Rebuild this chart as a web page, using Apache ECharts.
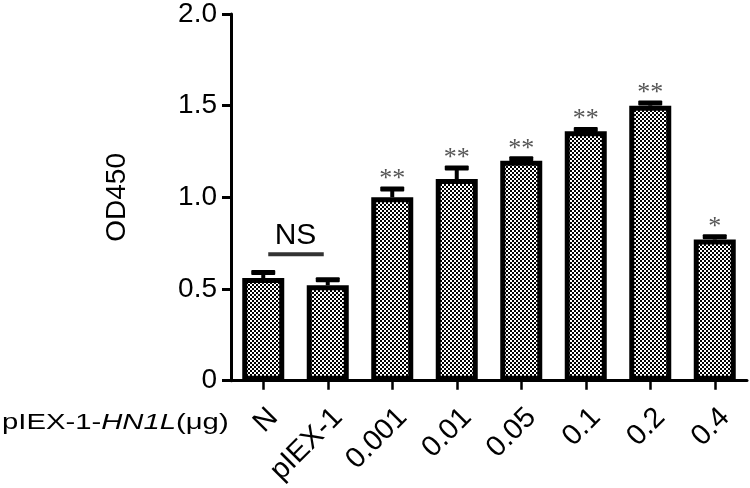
<!DOCTYPE html>
<html>
<head>
<meta charset="utf-8">
<script src="https://cdn.jsdelivr.net/npm/echarts@6/dist/echarts.min.js"></script>
<style>
html,body{margin:0;padding:0;background:#fff;}
#chart{width:750px;height:488px;}
</style>
</head>
<body>
<div id="chart"></div>
<script>
// ---- data ----
const categories = ['N', 'pIEX-1', '0.001', '0.01', '0.05', '0.1', '0.2', '0.4'];
const means = [0.56, 0.52, 1.00, 1.10, 1.20, 1.36, 1.50, 0.77];
const sds = [0.03, 0.03, 0.045, 0.06, 0.01, 0.01, 0.015, 0.015];
const stars = ['', '', '**', '**', '**', '**', '**', '*'];
const nsPair = [0, 1];
const nsLevel = 0.69;
const nsText = 'NS';
const yTickValues = [0, 0.5, 1.0, 1.5, 2.0];
const yName = 'OD450';
const xTitleParts = ['pIEX-1-', 'HN1L', '(μg)'];

// ---- pattern ----
const tile = document.createElement('canvas');
tile.width = 4; tile.height = 4;
const tctx = tile.getContext('2d');
tctx.fillStyle = '#fff'; tctx.fillRect(0, 0, 4, 4);
tctx.fillStyle = '#000';
tctx.fillRect(0, 0, 2, 2);
tctx.fillRect(2, 2, 2, 2);

const chart = echarts.init(document.getElementById('chart'), null, {renderer: 'canvas'});

const errData = categories.map((c, i) => [i, means[i], means[i] + sds[i], stars[i]]);

const option = {
  animation: false,
  backgroundColor: '#fff',
  grid: {left: 231, right: 3, top: 14, bottom: 106},
  xAxis: {
    type: 'category',
    data: categories,
    axisLine: {lineStyle: {color: '#000', width: 3}},
    axisTick: {show: true, alignWithLabel: true, length: 9, lineStyle: {color: '#000', width: 2.5}},
    axisLabel: {
      rotate: 45, interval: 0, margin: 22, verticalAlign: 'top',
      fontFamily: 'Liberation Sans, Arial, sans-serif', fontSize: 29, color: '#000'
    }
  },
  yAxis: {
    type: 'value',
    min: yTickValues[0], max: yTickValues[yTickValues.length - 1], interval: 0.5,
    name: yName, nameLocation: 'middle', nameGap: 100, nameRotate: 90,
    nameTextStyle: {fontFamily: 'Liberation Sans, Arial, sans-serif', fontSize: 28, color: '#000'},
    axisLine: {show: true, lineStyle: {color: '#000', width: 3}},
    axisTick: {show: true, length: 9, lineStyle: {color: '#000', width: 3}},
    splitLine: {show: false},
    axisLabel: {
      margin: 14, fontFamily: 'Liberation Sans, Arial, sans-serif', fontSize: 28, color: '#000',
      formatter: v => v === 0 ? '0' : v.toFixed(1)
    }
  },
  graphic: [{
    type: 'text', left: 2, top: 412, scaleX: 1.33,
    style: {
      text: '{a|' + xTitleParts[0] + '}{b|' + xTitleParts[1] + '}{a|' + xTitleParts[2] + '}',
      rich: {
        a: {fontFamily: 'Liberation Sans, Arial, sans-serif', fontSize: 22, fill: '#000'},
        b: {fontFamily: 'Liberation Sans, Arial, sans-serif', fontSize: 22, fontStyle: 'italic', fill: '#000'}
      }
    }
  }],
  series: [
    {
      type: 'bar',
      data: means,
      barWidth: 42,
      itemStyle: {color: {image: tile, repeat: 'repeat'}, borderColor: '#000', borderWidth: 5},
      z: 2
    },
    {
      type: 'custom',
      data: errData,
      z: 3,
      renderItem: function (params, api) {
        const x = api.value(0);
        const base = api.coord([x, api.value(1)]);
        const top = api.coord([x, api.value(2)]);
        const children = [
          {type: 'rect', shape: {x: top[0] - 2, y: top[1], width: 4, height: base[1] - top[1]}, style: {fill: '#000'}},
          {type: 'rect', shape: {x: top[0] - 12, y: top[1] - 2.5, width: 24, height: 5, r: 1}, style: {fill: '#000'}}
        ];
        const s = api.value(3);
        if (s) {
          children.push({type: 'text', style: {
            text: s, x: top[0], y: top[1] - 10, align: 'center', verticalAlign: 'middle',
            fontFamily: 'Liberation Serif, Times New Roman, serif', fontSize: 26, fill: '#555'
          }});
        }
        return {type: 'group', children: children};
      }
    },
    {
      type: 'custom',
      data: [[nsPair[0], nsPair[1], nsLevel]],
      z: 3,
      renderItem: function (params, api) {
        const p0 = api.coord([api.value(0), api.value(2)]);
        const p1 = api.coord([api.value(1), api.value(2)]);
        return {type: 'group', children: [
          {type: 'rect', shape: {x: p0[0] + 5, y: p0[1] - 2, width: p1[0] - p0[0] - 9, height: 4}, style: {fill: '#333'}},
          {type: 'text', style: {
            text: nsText, x: (p0[0] + p1[0]) / 2, y: p0[1] - 3, align: 'center', verticalAlign: 'bottom',
            fontFamily: 'Liberation Sans, Arial, sans-serif', fontSize: 30, fill: '#000'
          }}
        ]};
      }
    }
  ]
};
chart.setOption(option);
</script>
</body>
</html>
